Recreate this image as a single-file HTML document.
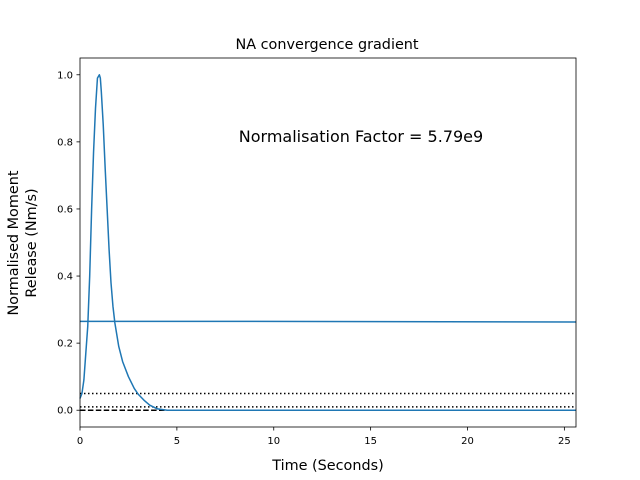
<!DOCTYPE html>
<html><head><meta charset="utf-8"><style>body{margin:0;background:#fff}svg{display:block;font-family:"DejaVu Sans","Liberation Sans",sans-serif}</style></head>
<body>
<svg id="chart" width="640" height="480">
<rect x="0" y="0" width="640" height="480" fill="#fff"/>
<g id="plot"></g>
<text x="327" y="49" text-anchor="middle" font-size="14.4">NA convergence gradient</text>
<text x="328" y="470" text-anchor="middle" font-size="14.4">Time (Seconds)</text>
<text transform="translate(18,243) rotate(-90)" text-anchor="middle" font-size="14.4"><tspan x="0" dy="0">Normalised Moment</tspan><tspan x="0" dy="18">Release (Nm/s)</tspan></text>
<text x="361" y="142" text-anchor="middle" font-size="16">Normalisation Factor = 5.79e9</text>
</svg>
<script>
const xTicks=[0,5,10,15,20,25];
const yTicks=[0.0,0.2,0.4,0.6,0.8,1.0];
const curveT=[0,0.1,0.2,0.3,0.4,0.5,0.6,0.7,0.8,0.9,1.0,1.05,1.1,1.2,1.3,1.4,1.5,1.6,1.7,1.8,2.0,2.2,2.5,2.8,3.0,3.3,3.6,4.0,4.5,25.6];
const curveV=[0.035,0.05,0.09,0.17,0.25,0.4,0.6,0.77,0.9,0.99,1.0,0.99,0.95,0.85,0.72,0.6,0.48,0.38,0.31,0.26,0.19,0.145,0.1,0.065,0.048,0.03,0.015,0.004,0,0];
const flatT=[0,6,25.6];
const flatV=[0.265,0.265,0.263];
const refLevels=[0.05,0.01,0.0];
const refStyles=['dotted','dotted','dashed'];
const L=80,R=576,T=58,B=427,xmin=0,xmax=25.6,ymin=-0.05,ymax=1.05;
const sx=v=>L+(v-xmin)/(xmax-xmin)*(R-L);
const sy=v=>B-(v-ymin)/(ymax-ymin)*(B-T);
const NS='http://www.w3.org/2000/svg';
const g=document.getElementById('plot');
function mk(t,a){const e=document.createElementNS(NS,t);for(const k in a)e.setAttribute(k,a[k]);g.appendChild(e);return e;}
refLevels.forEach((v,i)=>{const e=mk('line',{x1:L,x2:R,y1:sy(v),y2:sy(v),stroke:'#000','stroke-width':1.5,'stroke-dasharray':refStyles[i]==='dotted'?'1.5,2.5':'5.5,2.4'});

});
function path(ts,vs,name){const d=ts.map((t,i)=>(i?'L':'M')+sx(t).toFixed(2)+','+sy(vs[i]).toFixed(2)).join('');
const e=mk('path',{d:d,fill:'none',stroke:'#1f77b4','stroke-width':1.5,'stroke-linejoin':'round'});

}
path(curveT,curveV,'moment-release-curve');
path(flatT,flatV,'flat-series-line');
const fr=mk('rect',{x:L,y:T,width:R-L,height:B-T,fill:'none',stroke:'#000','stroke-width':0.8});


xTicks.forEach(v=>{const x=sx(v);mk('line',{x1:x,x2:x,y1:B,y2:B+3.5,stroke:'#000','stroke-width':0.8});
const t=mk('text',{x:x,y:B+17,'text-anchor':'middle','font-size':10});t.textContent=v;

});
yTicks.forEach(v=>{const y=sy(v);mk('line',{x1:L-3.5,x2:L,y1:y,y2:y,stroke:'#000','stroke-width':0.8});
const t=mk('text',{x:L-7,y:y+3.5,'text-anchor':'end','font-size':10});t.textContent=v.toFixed(1);

});
</script>
</body></html>
